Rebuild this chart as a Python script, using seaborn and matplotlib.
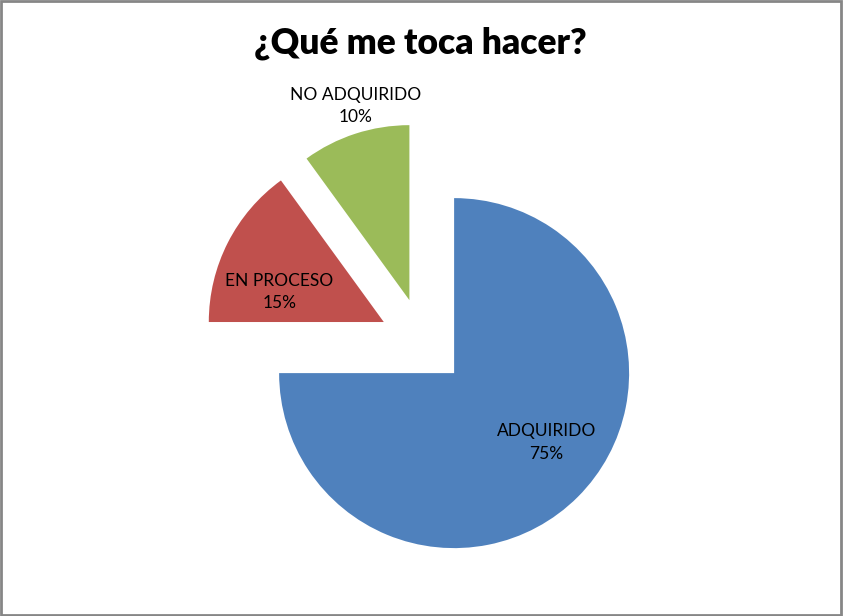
import numpy as np
import seaborn as sns
import matplotlib.pyplot as plt
from matplotlib.patches import Rectangle

# data
categories = ['ADQUIRIDO', 'EN PROCESO', 'NO ADQUIRIDO']
percent = [75, 15, 10]
colors = ['#4F81BD', '#C0504D', '#9BBB59']

sns.set_style('white')
plt.rcParams['font.family'] = ['Lato', 'DejaVu Sans']
plt.rcParams['text.color'] = 'black'

fig = plt.figure(figsize=(8.44, 6.16), dpi=100)
ax = fig.add_axes([0, 0, 1, 1])

# explode is in data units here (radius 175)
wedges, _ = ax.pie(percent, colors=colors, startangle=90, counterclock=False,
                   radius=175, center=(423, 274), explode=[44, 44, 44],
                   wedgeprops=dict(linewidth=0))
ax.set_xlim(0, 844)
ax.set_ylim(0, 616)
ax.set_aspect('equal')
ax.axis('off')

# label position per slice: (fraction of radius, angle tweak in degrees)
label_pos = [(0.66, 8), (0.62, 11), (1.15, -2.5)]
for w, name, p, (d, dt) in zip(wedges, categories, percent, label_pos):
    mid = np.deg2rad((w.theta1 + w.theta2) / 2 + dt)
    cx, cy = w.center
    ax.text(cx + d * w.r * np.cos(mid), cy + d * w.r * np.sin(mid),
            f'{name}\n{p}%', ha='center', va='center', fontsize=12.5,
            linespacing=1.5, color='black')

fig.text(0.4975, 0.93, '¿Qué me toca hacer?', ha='center', va='center',
         fontsize=25.5, fontweight='heavy', color='black')

fig.patches.append(Rectangle((0.001, 0.002), 0.996, 0.996, transform=fig.transFigure,
                             fill=False, edgecolor='#868686', linewidth=2))

fig.savefig('out.png', dpi=100)
